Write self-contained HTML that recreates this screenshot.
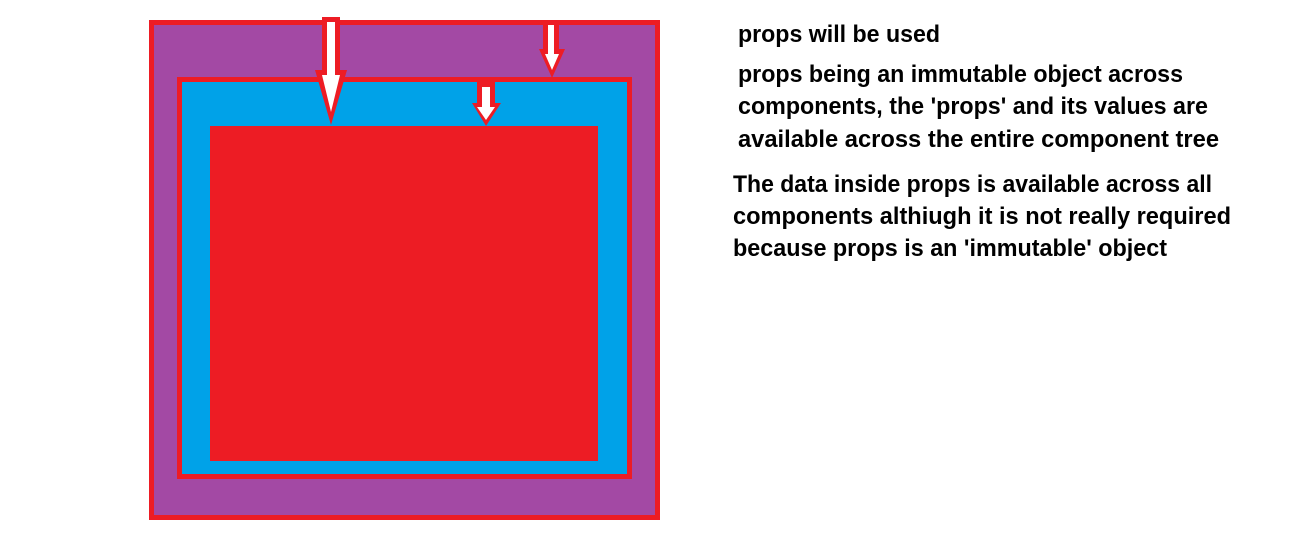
<!DOCTYPE html>
<html><head><meta charset="utf-8"><style>
html,body{margin:0;padding:0;background:#fff;}
svg{display:block}
text{font-family:"Liberation Sans",sans-serif;font-weight:bold;font-size:24px;fill:#000}
</style></head><body>
<svg width="1306" height="542" viewBox="0 0 1306 542">
  <rect x="151.5" y="22.5" width="506" height="495" fill="#A349A4" stroke="#ED1C24" stroke-width="5"/>
  <rect x="179.5" y="79.5" width="450" height="397" fill="#00A2E8" stroke="#ED1C24" stroke-width="5"/>
  <rect x="210" y="126" width="388" height="335" fill="#ED1C24"/>
  <g>
    <polygon points="322,17 340,17 340,70 347,70 331,125 315,70 322,70" fill="#ED1C24"/>
    <polygon points="327,22 335,22 335,75 340,75 331,112 322,75 327,75" fill="#fff"/>
  </g>
  <g>
    <polygon points="543,20 559,20 559,49 565,49 552,78 539,49 543,49" fill="#ED1C24"/>
    <polygon points="548,25 554,25 554,54 559,54 552,70 545,54 548,54" fill="#fff"/>
  </g>
  <g>
    <polygon points="477,82 495,82 495,103 501,103 486,126 472,103 477,103" fill="#ED1C24"/>
    <polygon points="482,87 490,87 490,107 495,107 486,120 477,107 482,107" fill="#fff"/>
  </g>
  <text x="738" y="42" textLength="202" lengthAdjust="spacingAndGlyphs">props will be used</text>
  <text x="738" y="82" textLength="445" lengthAdjust="spacingAndGlyphs">props being an immutable object across</text>
  <text x="738" y="114" textLength="470" lengthAdjust="spacingAndGlyphs">components, the 'props' and its values are</text>
  <text x="738" y="147" textLength="481" lengthAdjust="spacingAndGlyphs">available across the entire component tree</text>
  <text x="733" y="192" textLength="479" lengthAdjust="spacingAndGlyphs">The data inside props is available across all</text>
  <text x="733" y="224" textLength="498" lengthAdjust="spacingAndGlyphs">components althiugh it is not really required</text>
  <text x="733" y="256" textLength="434" lengthAdjust="spacingAndGlyphs">because props is an 'immutable' object</text>
</svg>
</body></html>
